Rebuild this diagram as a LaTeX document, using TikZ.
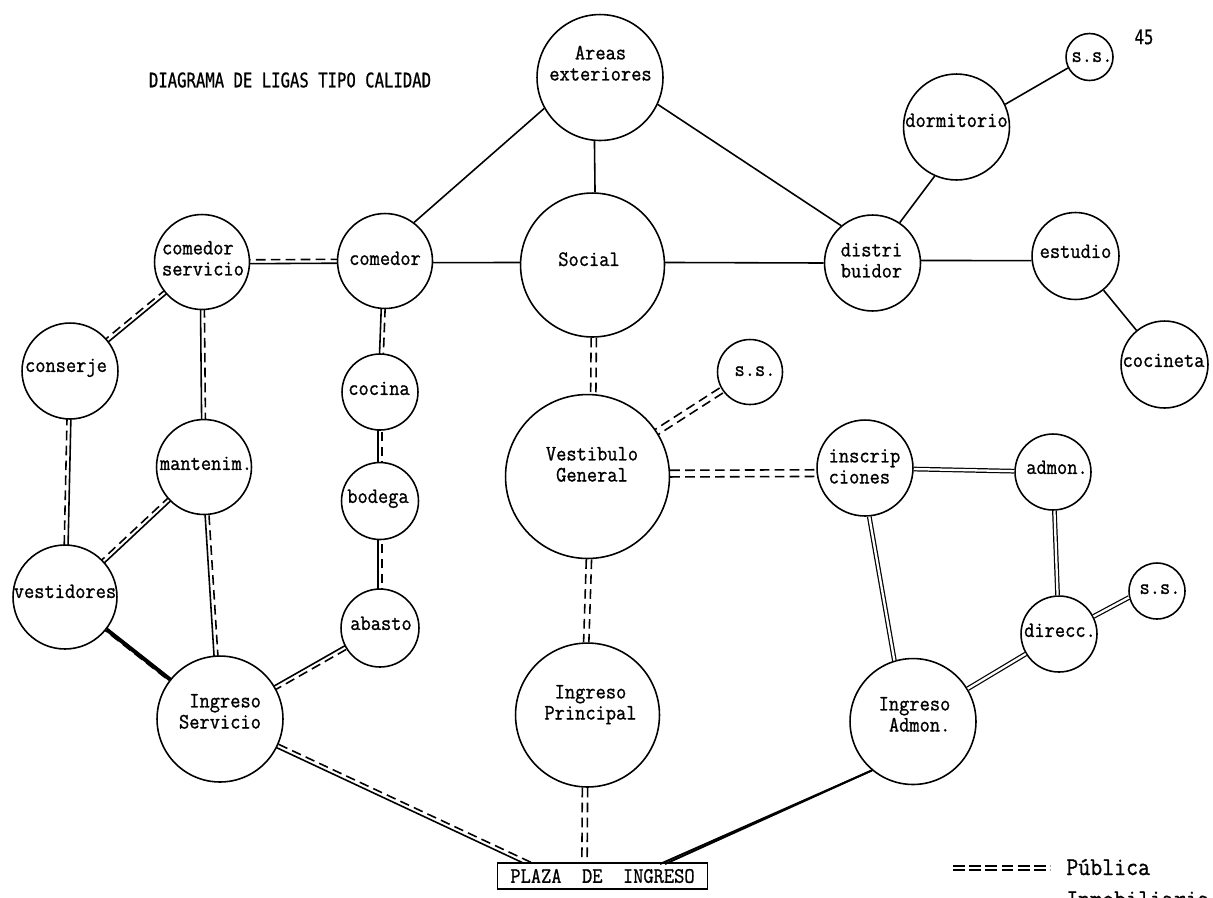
\documentclass[tikz,border=0pt]{standalone}
\usepackage{fontspec}
\usepackage{tikz}
\usetikzlibrary{calc, backgrounds}
\newfontfamily\rectafont[FakeStretch=0.78,FakeBold=0.8]{DejaVu Sans Mono}
\newfontfamily\lugarfont[FakeStretch=0.905,FakeBold=1]{Latin Modern Mono}
\newlength\px
\setlength\px{0.02cm}
% zero sized label, so that long words can run over the circle
\newcommand{\rotulo}[4][c]{\makebox[0pt]{\hspace*{#2\px}\hspace*{#2\px}\raisebox{\dimexpr#3\px-5\px\relax}[0pt][0pt]{\begin{tabular}{@{}#1@{}}#4\end{tabular}}}}
% solid line on the left of the way from a to b, dashed on the right
\newcommand{\ligamixta}[3][1.1pt]{
    \draw[liga] ($(#2)!#1!90:(#3)$) -- ($(#3)!#1!-90:(#2)$);
    \draw[ligadash] ($(#2)!#1!-90:(#3)$) -- ($(#3)!#1!90:(#2)$);
}
\newcommand{\ligapublica}[3][1.5pt]{
    \draw[ligadash] ($(#2)!#1!90:(#3)$) -- ($(#3)!#1!-90:(#2)$);
    \draw[ligadash] ($(#2)!#1!-90:(#3)$) -- ($(#3)!#1!90:(#2)$);
}

\begin{document}
\begin{tikzpicture}[
    x=0.02cm, y=-0.02cm,
    lugar/.style={
        circle, draw=black, fill=white, line width=0.9pt,
        inner sep=0pt, minimum size=#1*0.04cm,
        font=\lugarfont\fontsize{12.5}{12}\selectfont
    },
    plazabox/.style={
        rectangle, draw=black, fill=white, line width=0.9pt,
        minimum width=4.2cm, minimum height=0.52cm, inner sep=0pt,
        font=\lugarfont\fontsize{12.5}{12}\selectfont
    },
    titulo/.style={inner sep=0pt, font=\rectafont\fontsize{11.4}{12}\selectfont},
    leyenda/.style={inner sep=0pt, anchor=base west, font=\lugarfont\fontsize{14.6}{14}\selectfont},
    liga/.style={line width=0.9pt, draw=black},
    ligadash/.style={liga, dash pattern=on 5.5pt off 3pt},
    ligaplena/.style={double, double distance=1.3pt, line width=0.7pt, draw=black},
    ligagruesa/.style={line width=2pt, draw=black}
]
\useasboundingbox (0,0) rectangle (1213,897);

% Places, upper part
\node[lugar=63] (areas) at (600,77.5) {\rotulo{0.5}{11.5}{Areas\\exteriores}};
\node[lugar=72] (social) at (592.5,265) {\rotulo{-3.5}{3}{Social}};
\node[lugar=47.5] (comedor) at (385,261) {\rotulo{0}{0}{comedor}};
\node[lugar=47.5] (comserv) at (202,262) {\rotulo[l]{1}{1}{comedor\\servicio}};
\node[lugar=48] (conserje) at (70,371) {\rotulo{-4}{3}{conserje}};
\node[lugar=47.5] (mantenim) at (204,467) {\rotulo{2}{1}{mantenim.}};
\node[lugar=38] (cocina) at (380,392) {\rotulo{-1}{1}{cocina}};
\node[lugar=38.5] (bodega) at (380,501) {\rotulo{-2}{2}{bodega}};
\node[lugar=39] (abasto) at (380,628) {\rotulo{1}{2}{abasto}};
\node[lugar=52] (vestidores) at (65,597) {\rotulo{0}{3}{vestidores}};
\node[lugar=63] (ingserv) at (220,719) {\rotulo[r]{0}{5}{Ingreso\\Servicio}};

% Places, middle and right
\node[lugar=82] (vestibulo) at (587.5,476.5) {\rotulo{4.5}{9.5}{Vestibulo\\General}};
\node[lugar=32.5] (ssvest) at (750,372) {\rotulo{5}{0}{s.s.}};
\node[lugar=72] (principal) at (587.5,715) {\rotulo{3}{10}{Ingreso\\Principal}};
\node[lugar=48] (inscrip) at (865,468) {\rotulo[l]{-0.5}{-1}{inscrip\\ciones}};
\node[lugar=38] (admon) at (1053,472) {\rotulo{4}{2}{admon.}};
\node[lugar=38] (direcc) at (1059,634) {\rotulo{1}{1}{direcc.}};
\node[lugar=28] (ssadm) at (1157,591) {\rotulo{3}{1}{s.s.}};
\node[lugar=63] (ingadm) at (913,721.5) {\rotulo[r]{1.5}{4.5}{Ingreso\\Admon.}};
\node[lugar=48] (distrib) at (872.5,263) {\rotulo{-1}{0}{distri\\buidor}};
\node[lugar=53] (dormitorio) at (956.5,127) {\rotulo{0}{4}{dormitorio}};
\node[lugar=23.5] (ssdorm) at (1089.5,57) {\rotulo{2.5}{-1}{s.s.}};
\node[lugar=43.5] (estudio) at (1075.5,256) {\rotulo{0}{2}{estudio}};
\node[lugar=43.5] (cocineta) at (1164.5,364.5) {\rotulo{-1}{1.5}{cocineta}};

\node[plazabox] (plaza) at (602.5,876) {PLAZA\ \ DE\ \ INGRESO};
\coordinate (plazaizq) at (530,864);
\coordinate (plazacen) at (584.5,864);

% Texts
\node[titulo] (diagrama) at (290,80) {DIAGRAMA DE LIGAS TIPO CALIDAD};
\node[titulo] (pagina) at (1144,37) {45};

% Single links
\draw[liga] (areas.209) -- (comedor.53);
\draw[liga] (areas.265) -- (social.88);
\draw[liga] (areas.335) -- (distrib.130);
\draw[liga] (comedor.358) -- (social.178);
\draw[liga] (social.2) -- (distrib.180);
\draw[liga] (dormitorio.246) -- (distrib.56);
\draw[liga] (dormitorio.25) -- (ssdorm.207);
\draw[liga] (distrib.3) -- (estudio.186);
\draw[liga] (estudio) -- (cocineta);

\begin{scope}[on background layer]
% Solid and dashed
\ligamixta{comedor}{comserv}
\ligamixta{comserv}{conserje}
\ligamixta{mantenim}{comserv}
\ligamixta{cocina}{comedor}
\ligamixta{bodega}{cocina}
\ligamixta{abasto}{bodega}
\ligamixta{conserje}{vestidores}
\ligamixta{mantenim}{vestidores}
\ligamixta{ingserv}{mantenim}
\ligamixta{ingserv}{abasto}
\ligamixta{plazaizq}{ingserv}
\ligamixta[0.8pt]{vestidores}{ingserv}
\draw[ligagruesa] (vestidores) -- (ingserv);

% Both dashed
\ligapublica{social.271}{vestibulo.86}
\ligapublica{vestibulo.271}{principal.91}
\ligapublica{principal.268}{plazacen}
\ligapublica[1.7pt]{vestibulo}{ssvest}
\ligapublica[1.9pt]{vestibulo.2}{inscrip.186}
\end{scope}

% Both solid
\draw[ligaplena] (inscrip) -- (admon);
\draw[ligaplena] (admon) -- (direcc);
\draw[ligaplena] (inscrip.275) -- (ingadm.107);
\draw[ligaplena] (ingadm) -- (direcc);
\draw[ligaplena] (direcc.27) -- (ssadm.193);

% Plaza to Ingreso Admon., closing up
\coordinate (plazader) at (660,864);
\coordinate (plazadera) at (665,864);
\draw[liga, line width=1.1pt] (plazader) -- (ingadm.230);
\draw[liga, line width=1.1pt] (plazadera) -- (ingadm.230);

% Legend
\coordinate (muestraa) at (953,868);
\coordinate (muestrab) at (1050,868);
\begin{scope}[ligadash/.style={line width=1.1pt, draw=black, dash pattern=on 6.8pt off 2.4pt}]
\ligapublica[1.1pt]{muestraa}{muestrab}
\end{scope}
\node[leyenda] (publica) at (1066,875) {Pública};
\node[leyenda] (inmob) at (1066,907) {Inmobiliaria};

\end{tikzpicture}
\end{document}
